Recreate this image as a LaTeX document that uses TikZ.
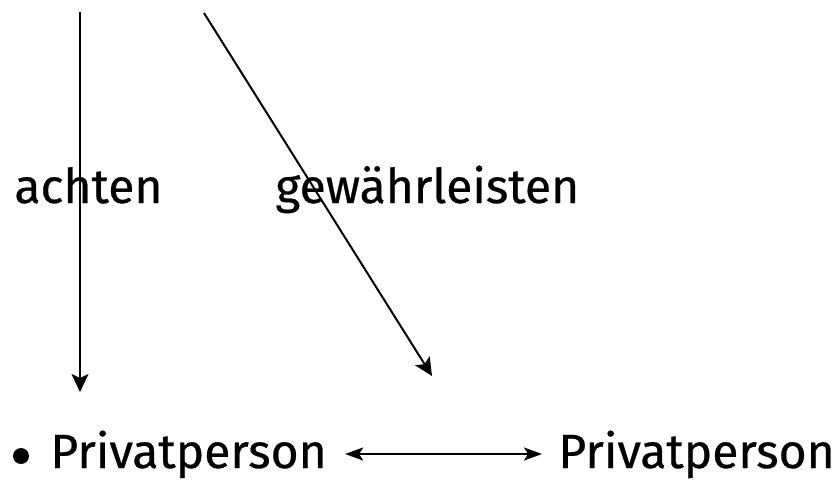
\documentclass[tikz,border=0pt]{standalone}
\usepackage{fontspec}
\setmainfont{Fira Sans}[UprightFeatures={FakeBold=0.5}]
\usetikzlibrary{arrows.meta,positioning}

\tikzset{
  wort/.style={font=\fontsize{24}{28}\selectfont, inner sep=0pt, anchor=base west},
  pfeil/.style={line width=1pt,-{Stealth[length=9pt,width=8.5pt,inset=2pt]}},
  doppelpfeil/.style={line width=1pt,{Stealth[length=9pt,width=6.5pt,inset=2pt]}-{Stealth[length=9pt,width=6.5pt,inset=2pt]}}
}

\begin{document}
\begin{tikzpicture}[x=0.5pt,y=-0.5pt]
\useasboundingbox (0,0) rectangle (839,479);
% Anfangs- und Endpunkte der Pfeile
\coordinate (oben1) at (80,12);
\coordinate (oben2) at (204,13);
\coordinate (ziel1) at (80,392);
\coordinate (ziel2) at (432,376);
% Beschriftungen
\node[wort] (achten) at (14,203) {achten};
\node[wort] (gewaehr) at (275,203) {gewährleisten};
\node[wort] (person1) at (50,468) {Privatperson};
\node[wort] (person2) at (558,468) {Privatperson};
\fill (21,456) circle[radius=4pt];
% Pfeile
\draw[pfeil] (oben1) -- (ziel1);
\draw[pfeil] (oben2) -- (ziel2);
\draw[doppelpfeil] ([shift={(9pt,7pt)}]person1.base east) -- ([shift={(-8pt,7pt)}]person2.base west);
\end{tikzpicture}
\end{document}
